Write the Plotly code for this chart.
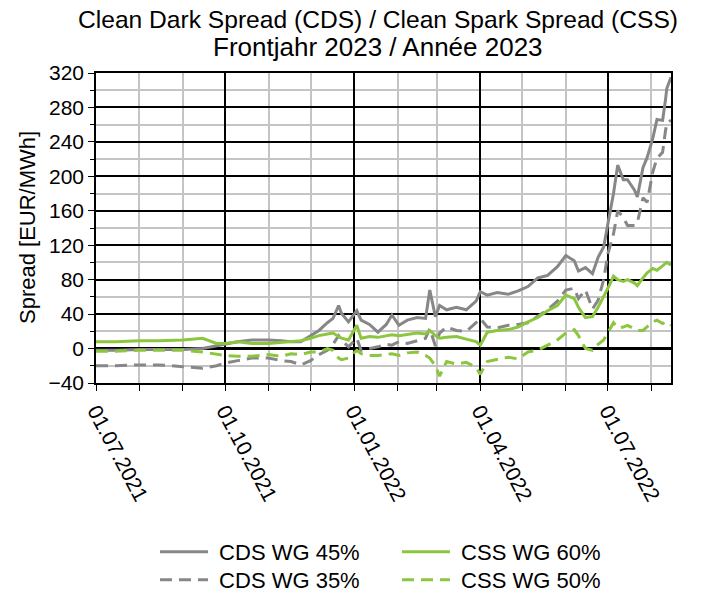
import plotly.graph_objects as go

# Handelstage (Auswahl) und Spreads in EUR/MWh
dates = [
    "2021-07-01", "2021-07-15", "2021-08-01", "2021-08-15", "2021-09-01", "2021-09-15",
    "2021-09-25", "2021-10-01", "2021-10-10", "2021-10-20", "2021-11-01", "2021-11-10",
    "2021-11-17", "2021-11-24", "2021-12-01", "2021-12-07", "2021-12-13", "2021-12-17",
    "2021-12-21", "2021-12-23", "2021-12-28", "2022-01-03", "2022-01-06", "2022-01-12",
    "2022-01-18", "2022-01-24", "2022-01-28", "2022-02-02", "2022-02-08", "2022-02-15",
    "2022-02-21", "2022-02-24", "2022-02-28", "2022-03-03", "2022-03-08", "2022-03-15",
    "2022-03-22", "2022-03-29", "2022-04-01", "2022-04-06", "2022-04-13", "2022-04-21",
    "2022-04-28", "2022-05-05", "2022-05-12", "2022-05-19", "2022-05-26", "2022-06-01",
    "2022-06-07", "2022-06-10", "2022-06-15", "2022-06-20", "2022-06-24", "2022-06-28",
    "2022-07-01", "2022-07-05", "2022-07-08", "2022-07-12", "2022-07-15", "2022-07-20",
    "2022-07-22", "2022-07-26", "2022-07-29", "2022-08-02", "2022-08-05", "2022-08-09",
    "2022-08-11", "2022-08-12", "2022-08-15",
]

cds_45 = [
    -2, -2, -1, -1, -1, 0,
    3, 5, 8, 10, 10, 9,
    8, 8, 15, 21, 30, 35,
    50, 41, 31, 44, 33, 28,
    19, 28, 39, 27, 33, 36,
    35, 68, 37, 50, 45, 48,
    45, 55, 66, 62, 65, 63,
    67, 72, 82, 85, 95, 108,
    102, 90, 94, 87, 106, 118,
    145, 180, 213, 196, 196, 184,
    176, 210, 222, 244, 266, 265,
    288, 302, 315,
]

cds_35 = [
    -20, -20, -19, -19, -21, -23,
    -20, -17, -14, -11, -11, -14,
    -15, -19, -14, -7, -2, 5,
    15, 10, 2, 12, -2, 0,
    2, 5, 4, 8, 6, 9,
    12, 23, 3, 18, 25, 21,
    20, 30, 35, 25, 24, 27,
    28, 30, 38, 45, 55, 68,
    70, 58, 68, 46, 56, 80,
    110, 133, 160, 152, 143, 143,
    146, 175, 170, 205, 221, 228,
    252, 262, 265,
]

css_60 = [
    8, 8, 9, 9, 10, 12,
    6, 6, 8, 6, 6, 7,
    8, 9, 12, 15, 17, 18,
    14, 12, 10, 27, 12, 14,
    13, 15, 16, 15, 16, 18,
    17, 21, 15, 12, 13, 14,
    11, 8, 4, 19, 21, 22,
    25, 31, 36, 44, 50, 62,
    58, 48, 36, 37, 48, 60,
    70, 84, 80, 78, 80, 76,
    73, 82, 88, 93, 91, 96,
    98, 100, 97,
]

css_50 = [
    -3, -3, -2, -2, -2, -4,
    -7, -8, -9, -9, -7, -9,
    -6, -7, -4, -4, 0, -2,
    -11, -13, -11, -2, -6, -8,
    -8, -7, -6, -8, -5, -4,
    -8, -11, -20, -32, -15, -18,
    -16, -22, -30, -15, -13, -10,
    -12, -4, -2, 4, 10, 18,
    22, 15, 0, -2, 5, 10,
    18, 30, 24, 25, 27, 23,
    21, 21, 25, 31, 33, 29,
    31, 31, 27,
]

title_lines = ["Clean Dark Spread (CDS) / Clean Spark Spread (CSS)",
               "Frontjahr 2023 / Année 2023"]
y_title = "Spread [EUR/MWh]"

grey = "#878787"
green = "#8cc63f"
minor_grey = "#c4c4c4"
font_name = "Liberation Sans, Arial, sans-serif"

fig = go.Figure()

# eine Legende pro Eintrag, damit das 2x2-Raster genau sitzt
series = [
    ("CDS WG 45%", cds_45, grey, "solid", "legend"),
    ("CDS WG 35%", cds_35, grey, "12px,7px", "legend3"),
    ("CSS WG 60%", css_60, green, "solid", "legend2"),
    ("CSS WG 50%", css_50, green, "12px,7px", "legend4"),
]
for name, values, color, dash, leg in series:
    fig.add_trace(go.Scatter(
        x=dates,
        y=values,
        mode="lines",
        name="\u00a0" + name,
        line=dict(color=color, width=3, dash=dash),
        legend=leg,
    ))

fig.update_xaxes(
    range=["2021-07-01", "2022-08-15"],
    tick0="2021-07-01",
    dtick="M3",
    tickformat="%d.%m.%Y",
    tickangle=62,
    ticks="outside",
    ticklen=6,
    tickcolor="black",
    showgrid=True,
    gridcolor="black",
    gridwidth=1.5,
    showline=True,
    linecolor="black",
    linewidth=1.5,
    mirror=True,
    automargin=False,
    minor=dict(dtick="M1", showgrid=True, gridcolor=minor_grey, gridwidth=1.5,
               ticks="outside", ticklen=6, tickcolor="black"),
    tickfont=dict(size=21, color="black"),
)

fig.update_yaxes(
    range=[-40, 320],
    dtick=40,
    ticks="outside",
    ticklen=6,
    tickcolor="black",
    showgrid=True,
    gridcolor="black",
    gridwidth=1.5,
    zeroline=True,
    zerolinecolor="black",
    zerolinewidth=3,
    showline=True,
    linecolor="black",
    linewidth=1.5,
    mirror=True,
    automargin=False,
    minor=dict(dtick=20, showgrid=True, gridcolor=minor_grey, gridwidth=1.5,
               ticks="outside", ticklen=4, tickcolor="black"),
    tickfont=dict(size=21, color="black"),
)

legend_style = dict(
    orientation="v",
    xref="container",
    yref="container",
    xanchor="left",
    yanchor="middle",
    itemwidth=48,
    font=dict(size=22, color="black"),
    bgcolor="rgba(0,0,0,0)",
)

# die Seite hat 8px Rand, daher etwas kleinere Figur
fig.update_layout(
    width=694,
    height=586,
    font=dict(family=font_name, color="black"),
    paper_bgcolor="white",
    plot_bgcolor="white",
    showlegend=True,
    legend=dict(x=0.2118, y=0.0717, **legend_style),
    legend2=dict(x=0.5605, y=0.0717, **legend_style),
    legend3=dict(x=0.2118, y=0.0239, **legend_style),
    legend4=dict(x=0.5605, y=0.0239, **legend_style),
    margin=dict(l=88, r=31, t=65, b=211, autoexpand=False),
)

# Titel als zwei Zeilen mit engem Zeilenabstand
for text, size, ypos in zip(title_lines, [24.6, 26], [1.174, 1.084]):
    fig.add_annotation(
        text=text, x=0.49, y=ypos, xref="paper", yref="paper",
        xanchor="center", yanchor="middle", showarrow=False,
        font=dict(size=size, color="black"),
    )

fig.add_annotation(
    text=y_title, x=-0.12, y=0.5, xref="paper", yref="paper",
    xanchor="center", yanchor="middle", textangle=-90, showarrow=False,
    font=dict(size=22, color="black"),
)

fig.write_html("out.html")
